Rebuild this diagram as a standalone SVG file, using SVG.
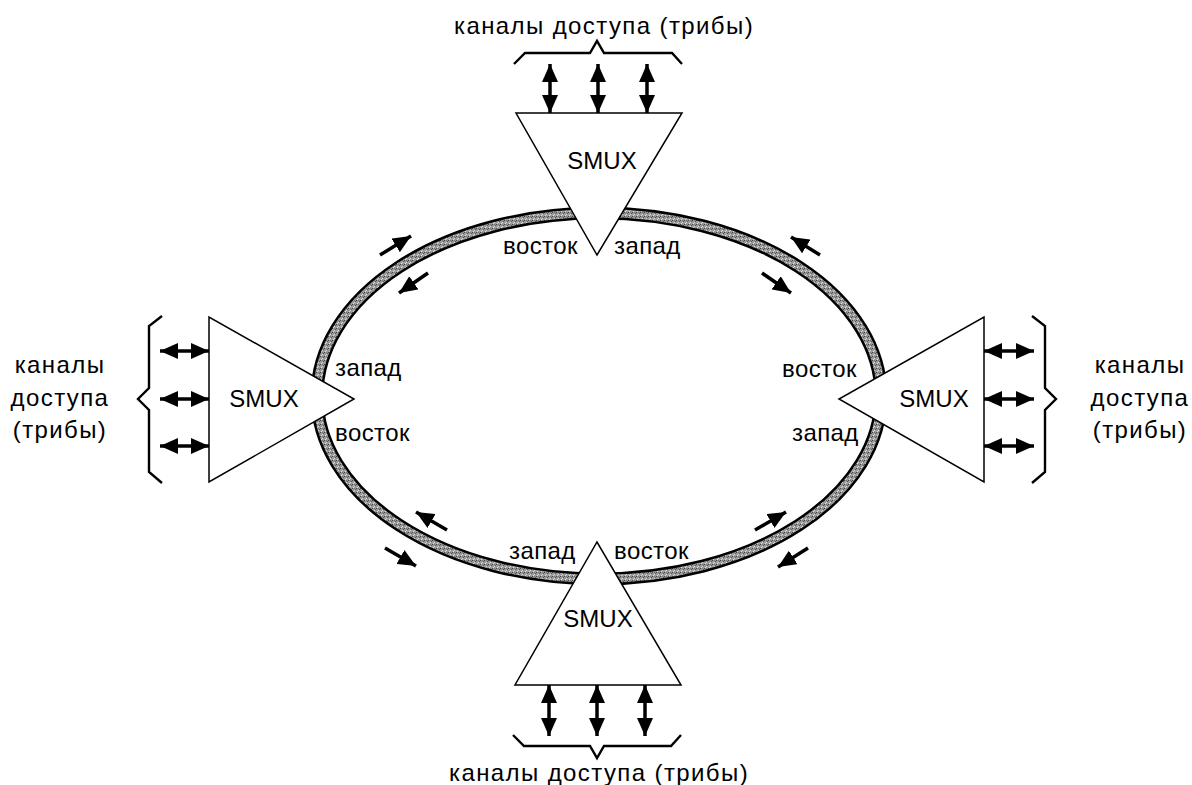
<svg xmlns="http://www.w3.org/2000/svg" width="1192" height="785" viewBox="0 0 1192 785">
<defs>
<style>
text{font-family:"Liberation Sans","DejaVu Sans",sans-serif;fill:#000}
.lbl{font-size:24px;letter-spacing:0.4px}
.cap{font-size:24px;letter-spacing:1.4px;text-anchor:middle}
.smux{font-size:24px;text-anchor:middle}
.node{fill:#fff;stroke:#000;stroke-width:1.5}
.brace{fill:none;stroke:#000;stroke-width:2.4;stroke-linejoin:miter}
.dbl{stroke:#000;stroke-width:3.5}
.dir{stroke:#000;stroke-width:3.5}
</style>
<marker id="ah" viewBox="-9 -8 18 16" refX="9" refY="0" markerWidth="18" markerHeight="16" orient="auto-start-reverse" markerUnits="userSpaceOnUse"><path d="M-9,-8 L9,0 L-9,8 z" fill="#000"/></marker>
<pattern id="grain" width="4" height="4" patternUnits="userSpaceOnUse"><rect width="4" height="4" fill="#9a9a9a"/><rect x="0" y="0" width="1" height="1" fill="#444"/><rect x="2" y="2" width="1" height="1" fill="#d8d8d8"/><rect x="3" y="1" width="1" height="1" fill="#555"/><rect x="1" y="3" width="1" height="1" fill="#e0e0e0"/><rect x="2" y="0" width="1" height="1" fill="#777"/></pattern>
</defs>
<g id="ring">
<ellipse cx="599" cy="396" rx="282" ry="183" fill="none" stroke="#000" stroke-width="13"/>
<ellipse cx="599" cy="396" rx="282" ry="183" fill="none" stroke="url(#grain)" stroke-width="8"/>
</g>
<g id="connectors">
<line class="dbl" x1="550" y1="64" x2="550" y2="113" marker-start="url(#ah)" marker-end="url(#ah)"/>
<line class="dbl" x1="598" y1="64" x2="598" y2="113" marker-start="url(#ah)" marker-end="url(#ah)"/>
<line class="dbl" x1="647" y1="64" x2="647" y2="113" marker-start="url(#ah)" marker-end="url(#ah)"/>
<line class="dbl" x1="549" y1="685" x2="549" y2="736" marker-start="url(#ah)" marker-end="url(#ah)"/>
<line class="dbl" x1="597" y1="685" x2="597" y2="736" marker-start="url(#ah)" marker-end="url(#ah)"/>
<line class="dbl" x1="645" y1="685" x2="645" y2="736" marker-start="url(#ah)" marker-end="url(#ah)"/>
<line class="dbl" x1="160" y1="351" x2="209" y2="351" marker-start="url(#ah)" marker-end="url(#ah)"/>
<line class="dbl" x1="160" y1="399" x2="209" y2="399" marker-start="url(#ah)" marker-end="url(#ah)"/>
<line class="dbl" x1="160" y1="446" x2="209" y2="446" marker-start="url(#ah)" marker-end="url(#ah)"/>
<line class="dbl" x1="984" y1="351" x2="1034" y2="351" marker-start="url(#ah)" marker-end="url(#ah)"/>
<line class="dbl" x1="984" y1="399" x2="1034" y2="399" marker-start="url(#ah)" marker-end="url(#ah)"/>
<line class="dbl" x1="984" y1="446" x2="1034" y2="446" marker-start="url(#ah)" marker-end="url(#ah)"/>
<line class="dir" x1="380" y1="255" x2="411" y2="236" marker-end="url(#ah)"/>
<line class="dir" x1="428" y1="273" x2="399" y2="293" marker-end="url(#ah)"/>
<line class="dir" x1="820" y1="255" x2="791" y2="237" marker-end="url(#ah)"/>
<line class="dir" x1="762" y1="273" x2="791" y2="293" marker-end="url(#ah)"/>
<line class="dir" x1="447" y1="530" x2="416" y2="512" marker-end="url(#ah)"/>
<line class="dir" x1="385" y1="548" x2="416" y2="566" marker-end="url(#ah)"/>
<line class="dir" x1="755" y1="530" x2="786" y2="512" marker-end="url(#ah)"/>
<line class="dir" x1="808" y1="548" x2="778" y2="567" marker-end="url(#ah)"/>
</g>
<g id="braces">
<path class="brace" d="M514,64 L525,53 L590,53 L597,41 L604,53 L672,53 L682,64"/>
<path class="brace" d="M513,735 L524,746 L590,746 L597,758 L604,746 L671,746 L681,735"/>
<path class="brace" d="M162,316 L149,326 L149,388 L138,399 L149,410 L149,472 L162,483"/>
<path class="brace" d="M1032,316 L1045,326 L1045,388 L1056,399 L1045,410 L1045,472 L1032,483"/>
</g>
<g id="node-top">
<polygon class="node" points="516,113 682,113 597,255"/>
<text class="smux" x="602" y="169">SMUX</text>
<text class="lbl" x="503" y="254">восток</text>
<text class="lbl" x="614" y="254">запад</text>
</g>
<g id="node-left">
<polygon class="node" points="209,317 209,482 354,399"/>
<text class="smux" x="264" y="407">SMUX</text>
<text class="lbl" x="335" y="376">запад</text>
<text class="lbl" x="335" y="441">восток</text>
</g>
<g id="node-right">
<polygon class="node" points="984,317 984,482 839,399"/>
<text class="smux" x="934" y="407">SMUX</text>
<text class="lbl" x="782" y="377">восток</text>
<text class="lbl" x="792" y="441">запад</text>
</g>
<g id="node-bottom">
<polygon class="node" points="515,685 681,685 597,542"/>
<text class="smux" x="598" y="627">SMUX</text>
<text class="lbl" x="509" y="559">запад</text>
<text class="lbl" x="614" y="559">восток</text>
</g>
<g id="labels">
<text class="cap" x="604" y="34">каналы доступа (трибы)</text>
<text class="cap" x="599" y="781">каналы доступа (трибы)</text>
<text class="cap" x="60" y="373">каналы</text>
<text class="cap" x="60" y="406">доступа</text>
<text class="cap" x="60" y="438">(трибы)</text>
<text class="cap" x="1140" y="373">каналы</text>
<text class="cap" x="1140" y="406">доступа</text>
<text class="cap" x="1140" y="438">(трибы)</text>
</g>
</svg>
